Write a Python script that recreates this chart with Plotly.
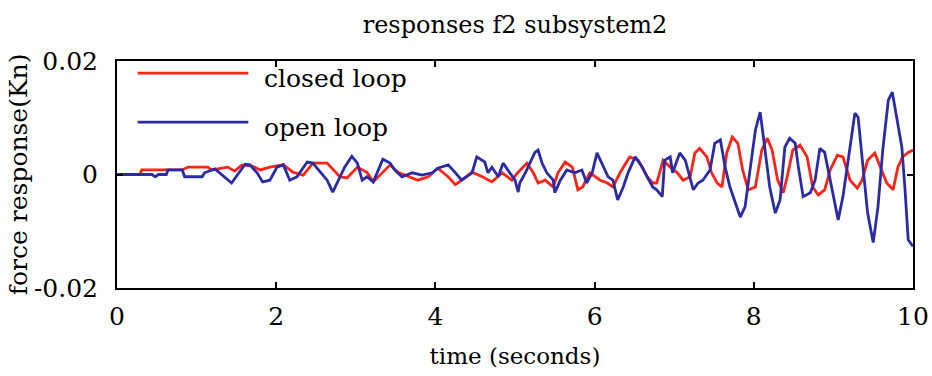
import plotly.graph_objects as go

# Closed-loop force response (Kn) against time (s)
closed_t = [0, 0.29, 0.31, 0.82, 0.89, 1.14, 1.19, 1.39, 1.48, 1.57, 1.70, 1.80, 1.92, 2.09, 2.21,
            2.34, 2.46, 2.64, 2.80, 2.89, 3.02, 3.14, 3.22, 3.34, 3.43, 3.53, 3.66, 3.78, 3.91,
            4.03, 4.16, 4.25, 4.33, 4.46, 4.59, 4.71, 4.84, 4.96, 5.04, 5.15, 5.23, 5.29, 5.38,
            5.48, 5.54, 5.63, 5.72, 5.79, 5.85, 5.94, 6.07, 6.16, 6.23, 6.32, 6.44, 6.55, 6.66,
            6.73, 6.78, 6.86, 6.95, 7.04, 7.11, 7.20, 7.26, 7.32, 7.41, 7.47, 7.54, 7.60, 7.66,
            7.73, 7.80, 7.86, 7.93, 8.02, 8.10, 8.17, 8.23, 8.30, 8.37, 8.42, 8.49, 8.58, 8.67,
            8.74, 8.81, 8.89, 8.96, 9.05, 9.12, 9.21, 9.30, 9.36, 9.43, 9.52, 9.59, 9.67, 9.75,
            9.81, 9.87, 9.94, 10.0]
closed_f = [0, 0, 0.0008, 0.0008, 0.0013, 0.0013, 0.0008, 0.0013, 0.0006, 0.0017, 0.0015, 0.0008,
            0.0013, 0.0017, 0.0004, -0.0001, 0.0020, 0.0020, -0.0004, -0.0006, 0.0013, 0.0004,
            -0.0013, 0.0004, 0.0017, 0.0004, -0.0004, -0.0010, -0.0004, 0.0011, -0.0004, -0.0018,
            -0.0010, 0.0004, -0.0004, -0.0013, 0.0003, -0.0010, 0.0004, 0.0020, 0.0003, -0.0015,
            -0.0010, -0.0022, 0.0003, 0.0022, 0.0013, -0.0027, -0.0022, 0.0003, -0.0010, -0.0015,
            -0.0022, 0.0003, 0.0031, 0.0025, -0.0004, -0.0015, -0.0015, 0.0025, 0.0013, 0.0003,
            -0.0010, -0.0004, 0.0038, 0.0046, 0.0031, 0.0003, -0.0015, -0.0022, 0.0038, 0.0066,
            0.0055, 0.0008, -0.0027, -0.0022, 0.0043, 0.0064, 0.0043, -0.0010, -0.0032, -0.0004,
            0.0043, 0.0052, 0.0031, -0.0022, -0.0036, -0.0027, 0.0008, 0.0034, 0.0031, -0.0010,
            -0.0024, -0.0010, 0.0025, 0.0038, 0.0013, -0.0015, -0.0027, 0.0013, 0.0031, 0.0039,
            0.0043]

# Open-loop force response (Kn) against time (s)
open_t = [0, 0.39, 0.44, 0.48, 0.52, 0.62, 0.64, 0.82, 0.85, 1.07, 1.10, 1.23, 1.44, 1.61, 1.67,
          1.76, 1.83, 1.92, 2.01, 2.09, 2.17, 2.26, 2.39, 2.46, 2.58, 2.64, 2.71, 2.78, 2.86,
          2.95, 3.02, 3.08, 3.14, 3.22, 3.28, 3.34, 3.43, 3.49, 3.58, 3.71, 3.83, 3.96, 4.03,
          4.16, 4.25, 4.33, 4.46, 4.52, 4.62, 4.66, 4.71, 4.79, 4.85, 4.91, 5.00, 5.04, 5.06,
          5.13, 5.19, 5.25, 5.29, 5.34, 5.40, 5.48, 5.50, 5.57, 5.65, 5.75, 5.84, 5.90, 5.97,
          6.03, 6.09, 6.17, 6.23, 6.29, 6.36, 6.42, 6.51, 6.60, 6.66, 6.73, 6.78, 6.85, 6.88,
          6.95, 6.98, 7.07, 7.14, 7.17, 7.24, 7.30, 7.36, 7.45, 7.51, 7.58, 7.64, 7.70, 7.76,
          7.83, 7.89, 7.95, 8.02, 8.08, 8.14, 8.20, 8.27, 8.33, 8.39, 8.45, 8.52, 8.56, 8.62,
          8.71, 8.77, 8.83, 8.89, 8.96, 9.02, 9.06, 9.12, 9.21, 9.27, 9.31, 9.37, 9.43, 9.50,
          9.56, 9.62, 9.69, 9.74, 9.80, 9.86, 9.90, 9.94, 10.0]
open_f = [0, 0, 0, -0.0004, 0, 0, 0.0008, 0.0008, -0.0004, -0.0004, 0.0003, 0.0010, -0.0015,
          0.0018, 0.0017, 0.0003, -0.0013, -0.0010, 0.0013, 0.0017, -0.0010, -0.0004, 0.0022,
          0.0020, -0.0001, -0.0010, -0.0031, -0.0010, 0.0013, 0.0032, 0.0020, -0.0010, -0.0004,
          -0.0013, 0.0008, 0.0027, 0.0020, 0.0008, -0.0004, 0.0003, -0.0001, 0.0003, 0.0011,
          0.0017, 0.0003, -0.0010, 0.0003, 0.0031, 0.0022, 0.0003, 0.0013, -0.0004, 0.0020,
          0.0008, -0.0010, -0.0031, -0.0015, 0.0003, 0.0020, 0.0039, 0.0043, 0.0020, 0.0003,
          -0.0010, -0.0032, -0.0010, 0.0008, 0.0003, 0.0008, -0.0015, 0.0003, 0.0038, 0.0020,
          -0.0004, -0.0010, -0.0045, -0.0022, 0.0003, 0.0031, 0.0013, -0.0004, -0.0022, -0.0027,
          -0.0039, 0.0025, 0.0031, 0.0003, 0.0038, 0.0025, 0.0008, -0.0027, -0.0015, -0.0010,
          0.0008, 0.0055, 0.0061, 0.0013, -0.0022, -0.0045, -0.0075, -0.0057, 0.0008, 0.0078,
          0.0110, 0.0048, -0.0022, -0.0068, -0.0045, 0.0048, 0.0064, 0.0055, 0.0013, -0.0039,
          -0.0032, -0.0010, 0.0046, 0.0039, -0.0010, -0.0057, -0.0080, -0.0039, 0.0048, 0.0108,
          0.0101, 0.0020, -0.0068, -0.0120, -0.0057, 0.0043, 0.0131, 0.0145, 0.0096, 0.0048,
          -0.0027, -0.0115, -0.0127]

x_ticks = [0, 2, 4, 6, 8, 10]
y_ticks = [-0.02, 0, 0.02]
y_tick_text = ["-0.02", "0", "0.02"]

series_names = ["closed loop", "open loop"]
series_colors = ["#ff2418", "#2b2ba6"]

SERIF = "DejaVu Serif"

fig = go.Figure()
fig.add_trace(go.Scatter(x=closed_t, y=closed_f, mode="lines", name=series_names[0],
                         line=dict(color=series_colors[0], width=2.8), showlegend=False))
fig.add_trace(go.Scatter(x=open_t, y=open_f, mode="lines", name=series_names[1],
                         line=dict(color=series_colors[1], width=2.8), showlegend=False))

# Key drawn inside the axes, top-left, with long line samples
key_rows = [(0.947, 0.925), (0.731, 0.708)]
for (ly, ty), name, color in zip(key_rows, series_names, series_colors):
    fig.add_shape(type="line", xref="paper", yref="paper", x0=0.026, x1=0.165, y0=ly, y1=ly,
                  line=dict(color=color, width=2.8))
    fig.add_annotation(xref="paper", yref="paper", x=0.182, y=ty, text=name, showarrow=False,
                       xanchor="left", yanchor="middle",
                       font=dict(family=SERIF, size=25, color="black"))

# Vertical axis caption
fig.add_annotation(xref="paper", yref="paper", x=-0.1235, y=0.5, text="force response(Kn)",
                   textangle=-90, showarrow=False, xanchor="center", yanchor="middle",
                   font=dict(family=SERIF, size=25, color="black"))

axis_common = dict(showline=True, linecolor="black", linewidth=2, mirror="ticks",
                   ticks="inside", ticklen=6, tickcolor="black", tickwidth=2,
                   showgrid=False, zeroline=False, automargin=False,
                   tickfont=dict(family=SERIF, size=25, color="black"))

fig.update_xaxes(range=[0, 10], tickvals=x_ticks, ticklabelstandoff=5,
                 title=dict(text="time (seconds)", font=dict(family=SERIF, size=23, color="black"),
                            standoff=18),
                 **axis_common)
fig.update_yaxes(range=[-0.02, 0.02], tickvals=y_ticks, ticktext=y_tick_text,
                 ticklabelstandoff=12, **axis_common)

fig.update_layout(
    width=932, height=376,
    margin=dict(l=117, r=19, t=61, b=88),
    paper_bgcolor="white", plot_bgcolor="white",
    title=dict(text="responses f2 subsystem2", x=0.5526, xanchor="center",
               y=1 - 25 / 376, yanchor="middle", yref="container",
               font=dict(family=SERIF, size=24, color="black")),
)

fig.write_html("out.html")
